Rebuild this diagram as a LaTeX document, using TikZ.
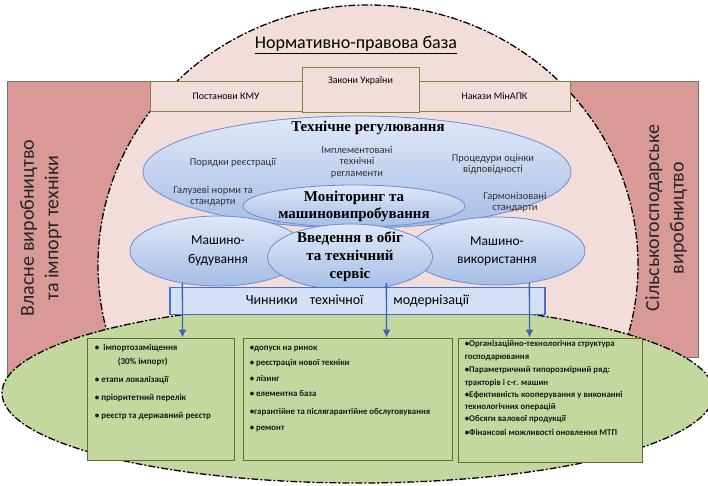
\documentclass[tikz,border=0pt]{standalone}
\usepackage{fontspec}
\setmainfont{Carlito}
\newfontfamily\serifbold{Liberation Serif}
\usetikzlibrary{shapes.geometric,calc,arrows.meta}
\definecolor{sidepink}{RGB}{217,153,151}
\definecolor{basepink}{RGB}{243,221,219}
\definecolor{olive}{RGB}{120,135,65}
\definecolor{greenbg}{RGB}{195,215,158}
\definecolor{boxline}{RGB}{95,110,45}
\definecolor{ovaltop}{RGB}{224,232,248}
\definecolor{ovalbot}{RGB}{165,189,230}
\definecolor{ovalline}{RGB}{110,140,210}
\definecolor{barfill}{RGB}{212,224,246}
\definecolor{barline}{RGB}{70,110,195}
\definecolor{arrowblue}{RGB}{60,100,180}

\begin{document}
\begin{tikzpicture}[x=1pt, y=-1pt]
\tikzstyle{sidebox} = [rectangle, fill=sidepink, draw=black!55, line width=.6pt, inner sep=0pt]
\tikzstyle{sidetxt} = [align=center, rotate=90, font=\fontsize{20}{24.5}\selectfont, text=black!85]
\tikzstyle{zone} = [ellipse, draw=black, line width=1.3pt, dash pattern=on 7pt off 2pt on 2pt off 2pt, inner sep=0pt]
\tikzstyle{docbox} = [rectangle, fill=basepink, draw=olive, line width=.9pt, inner sep=0pt, font=\fontsize{10}{11}\selectfont]
\tikzstyle{oval} = [ellipse, top color=ovaltop, bottom color=ovalbot, draw=ovalline, line width=.8pt, inner sep=0pt]
\tikzstyle{lbl} = [align=center, font=\fontsize{10.5}{11.5}\selectfont, text=black!80]
\tikzstyle{headtxt} = [align=center, font=\serifbold\bfseries\fontsize{15}{18}\selectfont]
\tikzstyle{rowtxt} = [align=center, font=\fontsize{13.5}{18.5}\selectfont]
\tikzstyle{factorbar} = [rectangle, fill=barfill, draw=barline, line width=1.2pt, inner sep=0pt, font=\fontsize{14}{16}\selectfont]
\tikzstyle{listbox} = [rectangle, fill=greenbg, draw=boxline, line width=.9pt, inner sep=0pt]
\tikzstyle{listtxt} = [align=left, anchor=north west, inner sep=0pt, text=black!90]
\tikzstyle{arr} = [-{Latex[length=8pt, width=8pt]}, line width=1.4pt, draw=arrowblue, fill=arrowblue]

\useasboundingbox (0,0) rectangle (708,485);

% side blocks
\node (own) [sidebox, minimum width=193pt, minimum height=314pt] at (103.5,238) {};
\node (agro) [sidebox, minimum width=178pt, minimum height=276pt] at (609,219) {};
\node (ownt) [sidetxt] at (41,228) {Власне виробництво\\та імпорт техніки};
\node (agrot) [sidetxt] at (666,218) {Сільськогосподарське\\виробництво};

% legal base
\begin{scope}
\clip (0,0) rectangle (708,395);
\node (base) [zone, fill=basepink, minimum width=540pt, minimum height=520pt] at (368,265) {};
\end{scope}
\node (baset) [font=\fontsize{18}{20}\selectfont] at (356,45) {\underline{Нормативно-правова база}};
\node (kmu) [docbox, minimum width=152pt, minimum height=30pt] at (226,96) {Постанови КМУ};
\node (mna) [docbox, minimum width=151pt, minimum height=30pt] at (494.5,96) {Накази МінАПК};
\node (laws) [docbox, minimum width=117pt, minimum height=45pt] at (360.5,89.5) {};
\node (lawst) [font=\fontsize{10}{11}\selectfont] at ($(laws.north)+(0,14)$) {Закони України};

% technical regulation
\node (techreg) [oval, minimum width=428pt, minimum height=112pt] at (357,172) {};
\node (techregt) [headtxt] at (368,128) {Технічне регулювання};
\node (impl) [lbl] at (357,162) {Імплементовані\\технічні\\регламенти};
\node (regs) [lbl] at (233,163) {Порядки реєстрації};
\node (proc) [lbl] at (493,164) {Процедури оцінки\\відповідності};
\node (norms) [lbl] at (213,196) {Галузеві норми та\\стандарти};
\node (harm) [lbl] at (515,202) {Гармонізовані\\стандарти};
\node (monit) [oval, minimum width=222pt, minimum height=42pt] at (354,206) {};
\node (monitt) [headtxt, font=\serifbold\bfseries\fontsize{15}{17}\selectfont] at (monit) {Моніторинг та\\машиновипробування};

% machinery row
\node (mbud) [oval, minimum width=176pt, minimum height=70pt] at (218,251) {};
\node (mvyk) [oval, minimum width=176pt, minimum height=68pt] at (497,251) {};
\node (vved) [oval, minimum width=165pt, minimum height=66pt] at (350,257) {};
\node (mbudt) [rowtxt] at (mbud) {Машино-\\будування};
\node (mvykt) [rowtxt] at (mvyk) {Машино-\\використання};
\node (vvedt) [headtxt] at (vved) {Введення в обіг\\та технічний\\сервіс};

% factors
\node (field) [zone, fill=greenbg, minimum width=712pt, minimum height=180pt] at (358,393) {};
\node (bar) [factorbar, minimum width=375pt, minimum height=27pt] at (357.5,301) {Чинники\hspace{12pt}технічної\hspace{30pt}модернізації};

\node (box1) [listbox, minimum width=147pt, minimum height=122pt] at (160.5,399) {};
\node (box2) [listbox, minimum width=209pt, minimum height=122pt] at (347.5,399) {};
\node (box3) [listbox, minimum width=184pt, minimum height=124pt] at (550,400) {};

\node (list1) [listtxt, font=\bfseries\fontsize{9}{18}\selectfont] at ($(box1.north west)+(8,6)$)
  {\textbullet\ \ імпортозаміщення\\[-4pt]
   \hspace*{23pt}(30\% імпорт)\\
   \textbullet\ етапи локалізації\\
   \textbullet\ пріоритетний перелік\\
   \textbullet\ реєстр та державний реєстр};
\node (list2) [listtxt, font=\bfseries\fontsize{8.8}{15.5}\selectfont] at ($(box2.north west)+(7,8)$)
  {\textbullet допуск на ринок\\
   \textbullet\ реєстрація нової техніки\\
   \textbullet\ лізинг\\
   \textbullet\ елементна база\\[2.5pt]
   \textbullet гарантійне та післягарантійне обслуговування\\
   \textbullet\ ремонт};
\node (list3) [listtxt, font=\bfseries\fontsize{8.8}{12.2}\selectfont] at ($(box3.north west)+(7,3)$)
  {\textbullet Організаційно-технологічна структура\\
   господарювання\\[1.5pt]
   \textbullet Параметричний типорозмірний ряд:\\
   тракторів і с-г. машин\\
   \textbullet Ефективність кооперування у виконанні\\
   технологічних операцій\\
   \textbullet Обсяги валової продукції\\[1.5pt]
   \textbullet Фінансові можливості оновлення МТП};

\draw[arr] ($(bar.north west)+(13,-4)$) -- ($(box1.north west)+(96,0)$);
\draw[arr] ($(bar.north west)+(217,-4)$) -- ($(box2.north west)+(144,0)$);
\draw[arr] ($(bar.north west)+(360,-4)$) -- ($(box3.north west)+(72,0)$);

\end{tikzpicture}
\end{document}
